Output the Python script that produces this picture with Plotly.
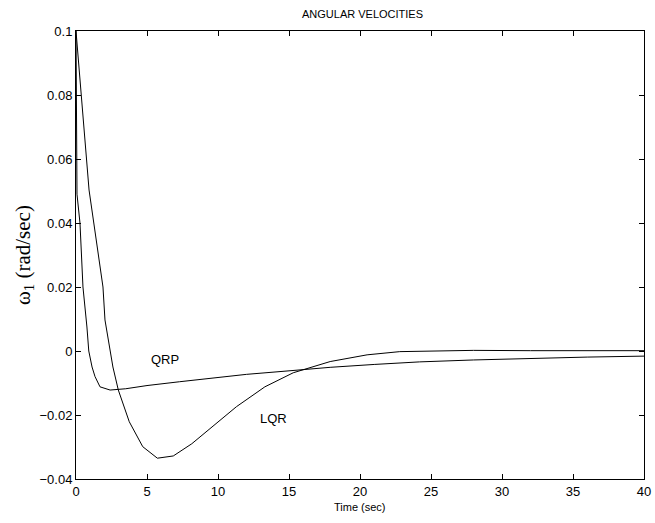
import plotly.graph_objects as go

# QRP response samples
qrp_t = [0, 0.07, 0.28, 0.49, 0.77, 0.9, 1.13, 1.34, 1.69, 2.4, 3.5, 5.0, 7.3, 9.5, 12.0, 15.0, 17.9, 21.0, 24.2, 28.0, 32.0, 36.0, 40.0]
qrp_w = [0.1, 0.049, 0.04, 0.02, 0.0075, 0.0, -0.005, -0.008, -0.0112, -0.0122, -0.0118, -0.0108, -0.0096, -0.0085, -0.0073, -0.0062, -0.0051, -0.0042, -0.0034, -0.0028, -0.0023, -0.0019, -0.0016]

# LQR response samples
lqr_t = [0, 0.92, 1.9, 2.04, 2.6, 2.98, 3.75, 4.7, 5.73, 6.85, 8.15, 9.9, 11.3, 13.3, 15.3, 17.9, 20.5, 22.8, 25.6, 28.0, 32.0, 36.0, 40.0]
lqr_w = [0.1, 0.0503, 0.02, 0.0097, -0.005, -0.0122, -0.0221, -0.0299, -0.0335, -0.0328, -0.029, -0.0226, -0.0174, -0.0112, -0.0068, -0.0033, -0.0012, -0.0002, 0.0001, 0.0002, 0.0001, 0.0001, 0.0001]

labels = [("QRP", 6.3, -0.0028), ("LQR", 13.9, -0.021)]

fig = go.Figure()
fig.add_trace(go.Scatter(x=qrp_t, y=qrp_w, mode="lines", line=dict(color="black", width=1), showlegend=False))
fig.add_trace(go.Scatter(x=lqr_t, y=lqr_w, mode="lines", line=dict(color="black", width=1), showlegend=False))

for txt, lx, ly in labels:
    fig.add_annotation(x=lx, y=ly, text=txt, showarrow=False, xref="x", yref="y",
                       xanchor="center", yanchor="middle",
                       font=dict(family="Liberation Sans, Arial", size=13, color="black"))

fig.add_annotation(text="ANGULAR VELOCITIES", x=0.505, y=1 + (31 - 14) / 448, xref="paper", yref="paper",
                   xanchor="center", yanchor="middle",
                   showarrow=False, font=dict(family="Liberation Sans, Arial", size=11, color="black"))
fig.add_annotation(text="Time (sec)", x=0.5, y=-(507 - 479) / 448, xref="paper", yref="paper",
                   xanchor="center", yanchor="middle",
                   showarrow=False, font=dict(family="Liberation Sans, Arial", size=11, color="black"))
fig.add_annotation(text="ω<sub>1</sub> (rad/sec)", x=-(76 - 24) / 568, y=0.5, xref="paper", yref="paper",
                   xanchor="center", yanchor="middle",
                   showarrow=False, textangle=-90,
                   font=dict(family="Liberation Serif, Times New Roman", size=21, color="black"))

axis_common = dict(showgrid=False, zeroline=False, showline=True, linecolor="black", linewidth=1,
                   mirror="ticks", ticks="inside", ticklen=5, tickcolor="black", tickwidth=1,
                   automargin=False,
                   tickfont=dict(family="Liberation Sans, Arial", size=13, color="black"))

fig.update_layout(
    width=655, height=523,
    margin=dict(l=76, r=11, t=31, b=44),
    paper_bgcolor="white", plot_bgcolor="white",
    xaxis=dict(range=[0, 40], dtick=5, tick0=0, **axis_common),
    yaxis=dict(range=[-0.04, 0.1], dtick=0.02, tick0=0, **axis_common),
)

fig.write_html("out.html")
